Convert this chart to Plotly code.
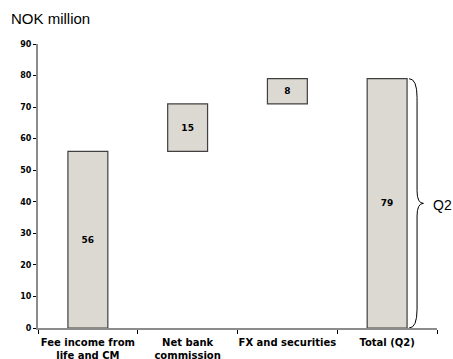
import plotly.graph_objects as go

# Waterfall components (NOK million)
categories = ["Fee income from<br>life and CM", "Net bank<br>commission",
              "FX and securities", "Total (Q2)"]
values = [56, 15, 8, 79]
bases = [0, 56, 71, 0]
y_ticks = [0, 10, 20, 30, 40, 50, 60, 70, 80, 90]

bar_fill = "#DCD9D3"
bar_edge = "#404040"
axis_grey = "#8C8C8C"

fig = go.Figure()
fig.add_trace(go.Bar(
    x=categories,
    y=values,
    base=bases,
    width=0.4,
    marker=dict(color=bar_fill, line=dict(color=bar_edge, width=1.2)),
    text=[str(v) for v in values],
    textposition="inside",
    insidetextanchor="middle",
    textangle=0,
    textfont=dict(family="DejaVu Sans", size=9, color="#000000", weight="bold"),
    hoverinfo="skip",
    showlegend=False,
))

# Curly brace spanning the total bar
total = values[-1]
n = len(categories)
x0 = (n - 1 + 0.5 + 0.2) / n + 0.005  # just right of the total bar (paper)
xm = x0 + 0.020                        # brace spine
xt = x0 + 0.036                        # brace tip
mid = total / 2
c_end = 6
c_mid = 4
brace = (f"M {x0},{total} Q {xm},{total} {xm},{total - c_end} "
         f"L {xm},{mid + c_mid} Q {xm},{mid} {xt},{mid} "
         f"Q {xm},{mid} {xm},{mid - c_mid} "
         f"L {xm},{c_end} Q {xm},0 {x0},0")
fig.add_shape(type="path", path=brace, xref="paper", yref="y",
              line=dict(color="#000000", width=1))

fig.add_annotation(text="Q2", xref="paper", yref="y", x=0.985, y=mid,
                   xanchor="left", yanchor="middle", showarrow=False,
                   yshift=-2,
                   font=dict(family="Liberation Sans", size=14, color="#000000"))

fig.add_annotation(text="NOK million", xref="paper", yref="paper",
                   x=-0.072, y=1.09, xanchor="left", yanchor="middle",
                   showarrow=False,
                   font=dict(family="Liberation Sans", size=15, color="#000000"))

fig.update_layout(
    width=453, height=359,
    margin=dict(l=38, r=16, t=44, b=31),
    paper_bgcolor="white", plot_bgcolor="white",
    bargap=0.6,
)
fig.update_xaxes(
    type="category",
    tickson="boundaries",
    tickangle=0,
    ticks="outside", ticklen=4, tickcolor="#000000", tickwidth=1,
    ticklabelstandoff=4,
    showline=True, linecolor=axis_grey, linewidth=2,
    showgrid=False, automargin=False,
    tickfont=dict(family="DejaVu Sans", size=10, color="#000000", weight="bold"),
)
fig.update_yaxes(
    range=[0, 90], tickvals=y_ticks,
    ticks="outside", ticklen=3, tickcolor="#000000", tickwidth=1,
    showline=True, linecolor=axis_grey, linewidth=2,
    showgrid=False, zeroline=False, automargin=False,
    tickfont=dict(family="DejaVu Sans", size=8, color="#000000", weight="bold"),
)

fig.write_html("out.html")
